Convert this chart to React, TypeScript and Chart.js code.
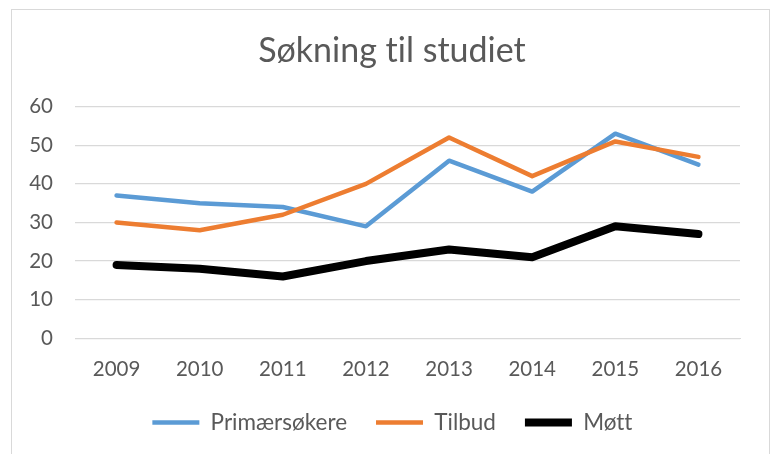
import React, { useEffect, useRef } from "react";
import { Chart, registerables } from "chart.js";

Chart.register(...registerables);

const years = ["2009", "2010", "2011", "2012", "2013", "2014", "2015", "2016"];
const primaersokere = [37, 35, 34, 29, 46, 38, 53, 45];
const tilbud = [30, 28, 32, 40, 52, 42, 51, 47];
const mott = [19, 18, 16, 20, 23, 21, 29, 27];
const yTicks = [0, 10, 20, 30, 40, 50, 60];

const FONT = "Lato, 'Noto Sans', sans-serif";
const TEXT = "#595959";

const tweaks = {
  id: "tweaks",
  afterLayout(chart: any) {
    // let y tick labels extend into the layout padding without being clipped
    chart.scales.y.left = 0;
  },
  beforeDraw(chart: any) {
    try {
      (chart.ctx as any).textRendering = "optimizeSpeed";
    } catch (e) {}
  },
};

export default function App() {
  const ref = useRef<HTMLCanvasElement | null>(null);

  useEffect(() => {
    if (!ref.current) return;
    const chart = new Chart(ref.current, {
      type: "line",
      data: {
        labels: years,
        datasets: [
          {
            label: "Primærsøkere",
            data: primaersokere,
            borderColor: "#5B9BD5",
            backgroundColor: "#5B9BD5",
            borderWidth: 4.5,
            pointRadius: 0,
            borderCapStyle: "round",
            borderJoinStyle: "round",
            tension: 0,
            order: 3,
          },
          {
            label: "Tilbud",
            data: tilbud,
            borderColor: "#ED7D31",
            backgroundColor: "#ED7D31",
            borderWidth: 4.5,
            pointRadius: 0,
            borderCapStyle: "round",
            borderJoinStyle: "round",
            tension: 0,
            order: 2,
          },
          {
            label: "Møtt",
            data: mott,
            borderColor: "#000000",
            backgroundColor: "#000000",
            borderWidth: 8,
            pointRadius: 0,
            borderCapStyle: "round",
            borderJoinStyle: "round",
            tension: 0,
            order: 1,
          },
        ],
      },
      plugins: [tweaks],
      options: {
        animation: false,
        responsive: false,
        maintainAspectRatio: false,
        layout: { padding: { left: 44, right: 33, top: 30.6, bottom: 10.25 } },
        plugins: {
          title: {
            display: true,
            text: "Søkning til studiet",
            color: TEXT,
            font: { family: FONT, size: 34, weight: "normal", lineHeight: 1.2 },
            padding: { top: 0, bottom: 35.3 },
          },
          legend: {
            position: "bottom",
            labels: {
              color: TEXT,
              font: { family: FONT, size: 22.5 },
              usePointStyle: true,
              pointStyle: "line",
              pointStyleWidth: 47,
              padding: 29,
              sort: (a: any, b: any) => a.datasetIndex - b.datasetIndex,
            },
          },
          tooltip: { enabled: false },
        },
        scales: {
          x: {
            type: "category",
            offset: true,
            afterFit: (scale: any) => {
              scale.height = 44;
            },
            grid: { display: false, drawTicks: false },
            border: { display: true, color: "#d9d9d9", width: 1 },
            ticks: { color: TEXT, font: { family: FONT, size: 20.5 }, padding: 19 },
          },
          y: {
            type: "linear",
            min: 0,
            max: 60,
            afterBuildTicks: (scale: any) => {
              scale.ticks = yTicks.map((v) => ({ value: v }));
            },
            afterFit: (scale: any) => {
              scale.width = 31;
            },
            grid: { color: "#d9d9d9", lineWidth: 1.3, drawTicks: false },
            border: { display: false },
            ticks: { color: TEXT, font: { family: FONT, size: 20.5 }, padding: 22 },
          },
        },
      },
    });
    return () => chart.destroy();
  }, []);

  return (
    <div style={{ position: "fixed", left: 0, top: 0, width: 773, height: 454, background: "#fff", overflow: "hidden" }}>
      <div
        style={{
          position: "absolute",
          left: 11,
          top: 9,
          width: 757,
          height: 460,
          border: "1px solid #d9d9d9",
        }}
      />
      <canvas ref={ref} width={773} height={454} style={{ position: "absolute", left: 0, top: 0 }} />
    </div>
  );
}
